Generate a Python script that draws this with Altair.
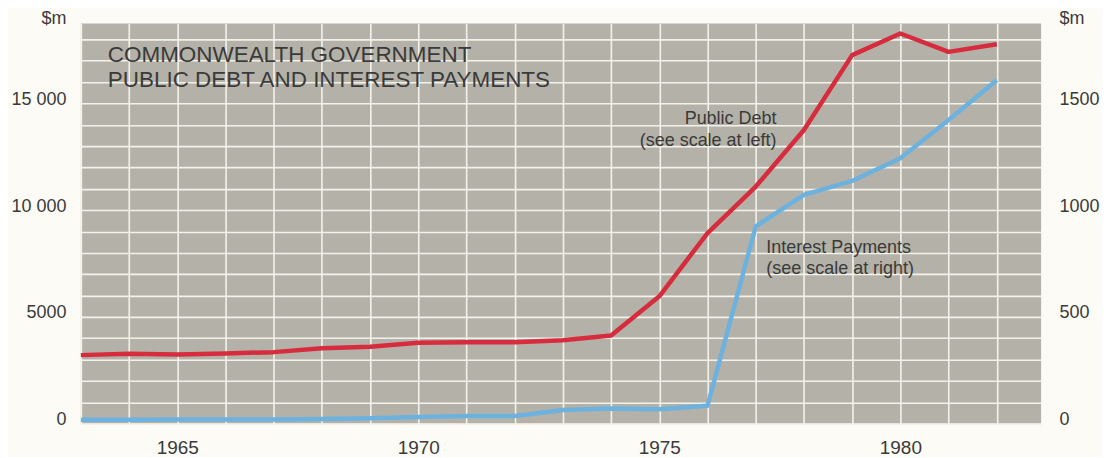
import altair as alt
import pandas as pd

# ---- data ----
years = list(range(1963, 1983))
public_debt = [3210, 3276, 3243, 3290, 3350, 3537, 3603, 3790, 3818, 3818,
               3911, 4131, 5967, 8930, 11107, 13757, 17262, 18276, 17416, 17776]
interest_payments = [18, 18, 19, 20, 20, 22, 25, 31, 36, 36,
                     64, 71, 67, 84, 924, 1072, 1137, 1243, 1422, 1609]

x_label_years = [1965, 1970, 1975, 1980]
left_tick_values = [0, 5000, 10000, 15000]
left_tick_labels = ["0", "5000", "10 000", "15 000"]
right_tick_values = [0, 500, 1000, 1500]
right_tick_labels = ["0", "500", "1000", "1500"]

title_lines = ["COMMONWEALTH GOVERNMENT", "PUBLIC DEBT AND INTEREST PAYMENTS"]
debt_note = ["Public Debt\n(see scale at left)"]
debt_note_x = [1977.43]
debt_note_y = [14270]
interest_note = ["Interest Payments\n(see scale at right)"]
interest_note_x = [1977.22]
interest_note_y = [825]

# ---- styling ----
FONT = "Liberation Sans"
TXT = "#3a3a3a"
RED = "#d62c3d"
BLUE = "#6db2df"
PLOT_BG = "#b4b2a8"
PAGE_BG = "#fcfbf5"
GRID = "#f3f2ea"

df = pd.DataFrame({"year": years, "debt": public_debt, "interest": interest_payments})
debt_df = pd.DataFrame({"year": debt_note_x, "debt": debt_note_y, "t": debt_note})
int_df = pd.DataFrame({"year": interest_note_x, "interest": interest_note_y, "t": interest_note})

x_dom = [1963, 1982.92]
left_dom = [0, 18750]
right_dom = [0, 1875]

left_expr = " : ".join(
    [f"datum.value == {v} ? '{l}'" for v, l in zip(left_tick_values, left_tick_labels)]
) + " : ''"
right_expr = " : ".join(
    [f"datum.value == {v} ? '{l}'" for v, l in zip(right_tick_values, right_tick_labels)]
) + " : ''"
x_expr = "indexof(" + str(x_label_years) + ", datum.value) >= 0 ? toString(datum.value) : ''"

x_axis = alt.Axis(
    values=years, grid=True, gridColor=GRID, gridWidth=1.6, ticks=False, domain=False,
    labelExpr=x_expr, labelFontSize=19, labelPadding=15, labelColor=TXT,
    labelFont=FONT, title=None, labelFlush=False, labelOverlap=False,
)
x_scale = alt.Scale(domain=x_dom, nice=False, zero=False)

left_axis = alt.Axis(
    values=list(range(0, 19000, 1000)), grid=True, gridColor=GRID, gridWidth=1.6,
    ticks=False, domain=False, labelExpr=left_expr, labelFontSize=18,
    labelPadding=15, labelColor=TXT, labelFont=FONT, labelOffset=-4,
    labelOverlap=False, labelFlush=False,
    title="$m", titleAngle=0, titleAlign="right", titleBaseline="middle",
    titleX=-15, titleY=-5, titleFontSize=18, titleFontWeight="normal",
    titleColor=TXT, titleFont=FONT,
)
right_axis = alt.Axis(
    orient="right", values=right_tick_values, grid=False, ticks=False, domain=False,
    labelExpr=right_expr, labelFontSize=18, labelPadding=18, labelColor=TXT,
    labelFont=FONT, labelOffset=-4, labelOverlap=False, labelFlush=False,
    title="$m", titleAngle=0, titleAlign="left", titleBaseline="middle",
    titleX=18, titleY=-5, titleFontSize=18, titleFontWeight="normal",
    titleColor=TXT, titleFont=FONT,
)

debt_line = alt.Chart(df).mark_line(color=RED, strokeWidth=4.5, strokeJoin="round").encode(
    x=alt.X("year:Q", scale=x_scale, axis=x_axis),
    y=alt.Y("debt:Q", scale=alt.Scale(domain=left_dom, nice=False), axis=left_axis),
)

debt_text = alt.Chart(debt_df).mark_text(
    align="right", baseline="middle", fontSize=18, font=FONT, color=TXT,
    lineBreak="\n", lineHeight=22,
).encode(
    x=alt.X("year:Q", scale=x_scale, axis=x_axis),
    y=alt.Y("debt:Q", scale=alt.Scale(domain=left_dom, nice=False), axis=left_axis),
    text="t:N",
)

int_line = alt.Chart(df).mark_line(color=BLUE, strokeWidth=4.5, strokeJoin="round").encode(
    x=alt.X("year:Q", scale=x_scale, axis=x_axis),
    y=alt.Y("interest:Q", scale=alt.Scale(domain=right_dom, nice=False), axis=right_axis),
)

int_text = alt.Chart(int_df).mark_text(
    align="left", baseline="middle", fontSize=18, font=FONT, color=TXT,
    lineBreak="\n", lineHeight=22,
).encode(
    x=alt.X("year:Q", scale=x_scale, axis=x_axis),
    y=alt.Y("interest:Q", scale=alt.Scale(domain=right_dom, nice=False), axis=right_axis),
    text="t:N",
)

chart = alt.layer(
    alt.layer(debt_line, debt_text),
    alt.layer(int_line, int_text),
).resolve_scale(y="independent").properties(
    width=962,
    height=401,
    autosize=alt.AutoSizeParams(type="none"),
    padding={"left": 73, "top": 15, "right": 61, "bottom": 33},
    background=PAGE_BG,
    title=alt.TitleParams(
        text=title_lines, anchor="start", frame="group", orient="top",
        baseline="top", fontSize=22.5, font=FONT, fontWeight="normal", color=TXT,
        lineHeight=25, dx=27, dy=82, offset=0,
    ),
).configure_view(fill=PLOT_BG, stroke=None)

chart.save("out.html", embed_options={"renderer": "svg", "actions": False})
